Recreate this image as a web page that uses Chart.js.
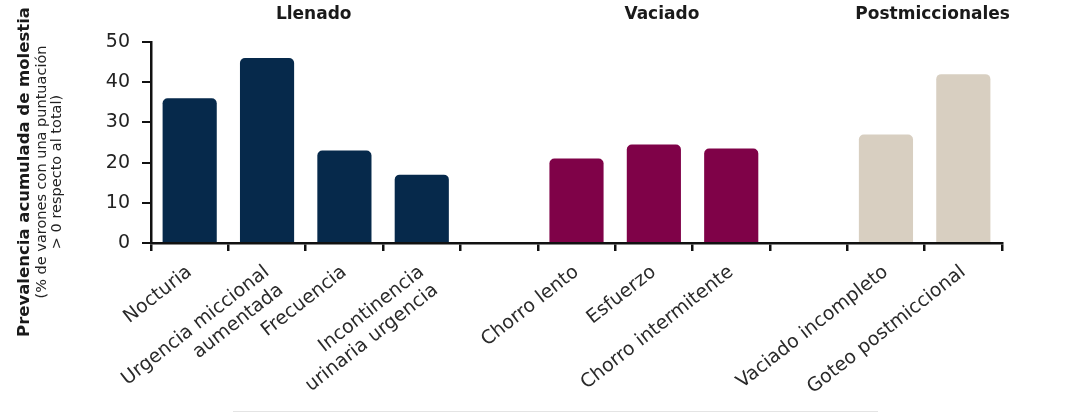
<!DOCTYPE html>
<html>
<head>
<meta charset="utf-8">
<script src="https://cdn.jsdelivr.net/npm/chart.js@4"></script>
<style>
  html, body { margin: 0; padding: 0; background: #fff; }
  #wrap { position: relative; width: 1074px; height: 413px; }
  #baseRule { position: absolute; left: 233px; width: 645px; top: 411px; height: 1px; background: #e4e4e4; }
</style>
</head>
<body>
<div id="wrap">
  <canvas id="chart" width="1074" height="413"></canvas>
  <div id="baseRule"></div>
</div>
<script>
(function () {
  'use strict';

  // ── data ────────────────────────────────────────────────
  const categories = [
    'Nocturia',
    ['Urgencia miccional', 'aumentada'],
    'Frecuencia',
    ['Incontinencia', 'urinaria urgencia'],
    '',
    'Chorro lento',
    'Esfuerzo',
    'Chorro intermitente',
    '',
    'Vaciado incompleto',
    'Goteo postmiccional'
  ];
  const values = [36, 46, 23, 17, null, 21, 24.5, 23.5, null, 27, 42];
  const barColors = [
    '#06294b', '#06294b', '#06294b', '#06294b', '#fff',
    '#7f0248', '#7f0248', '#7f0248', '#fff',
    '#d8cfc1', '#d8cfc1'
  ];
  const groups = [
    { title: 'Llenado', from: 0, to: 3 },
    { title: 'Vaciado', from: 5, to: 7 },
    { title: 'Postmiccionales', from: 9, to: 10 }
  ];
  const yTicks = [0, 10, 20, 30, 40, 50];
  const yTitle = 'Prevalencia acumulada de molestia';
  const ySubtitle = ['(% de varones con una puntuación', '> 0 respecto al total)'];

  const fontFamily = "'Century Gothic', 'DejaVu Sans', sans-serif";
  Chart.defaults.font.family = fontFamily;
  Chart.defaults.color = '#222';

  // group titles above the bars + rotated y title
  const decorations = {
    id: 'decorations',
    afterDraw(chart) {
      const ctx = chart.ctx;
      const x = chart.scales.x;
      ctx.save();
      ctx.fillStyle = '#1a1a1a';
      ctx.font = 'bold 17px ' + fontFamily;
      ctx.textAlign = 'center';
      ctx.textBaseline = 'middle';
      groups.forEach(g => {
        const cx = (x.getPixelForValue(g.from) + x.getPixelForValue(g.to)) / 2;
        ctx.fillText(g.title, cx + 8, 15);
      });
      ctx.translate(25, 172);
      ctx.rotate(-Math.PI / 2);
      ctx.font = 'bold 16.5px ' + fontFamily;
      ctx.fillText(yTitle, 0, 0);
      ctx.font = '14.5px ' + fontFamily;
      ctx.fillStyle = '#222';
      ctx.fillText(ySubtitle[0], 0, 17);
      ctx.fillText(ySubtitle[1], 0, 32);
      ctx.restore();
    }
  };

  new Chart(document.getElementById('chart'), {
    type: 'bar',
    data: {
      labels: categories,
      datasets: [{
        data: values,
        backgroundColor: barColors,
        borderRadius: { topLeft: 5, topRight: 5 },
        borderSkipped: 'bottom',
        categoryPercentage: 0.7,
        barPercentage: 1
      }]
    },
    options: {
      responsive: false,
      animation: false,
      layout: { padding: { top: 42, right: 72, left: 0, bottom: 0 } },
      plugins: { legend: { display: false }, tooltip: { enabled: false } },
      scales: {
        x: {
          afterFit: s => { s.height = 413 - 243; },
          grid: { drawOnChartArea: false, tickLength: 8, color: '#111', lineWidth: 2.5 },
          border: { color: '#111', width: 2.5 },
          ticks: {
            minRotation: 38, maxRotation: 38,
            autoSkip: false,
            padding: 10,
            color: '#2a2a2a',
            font: { size: 19 }
          }
        },
        y: {
          min: 0, max: 50,
          afterFit: s => { s.width = 151; },
          afterBuildTicks: s => { s.ticks = yTicks.map(v => ({ value: v })); },
          grid: { drawOnChartArea: false, tickLength: 9, color: '#111', lineWidth: 2 },
          border: { color: '#111', width: 2.5 },
          ticks: { padding: 12, color: '#222', font: { size: 19 } }
        }
      }
    },
    plugins: [decorations]
  });
}());
</script>
</body>
</html>
